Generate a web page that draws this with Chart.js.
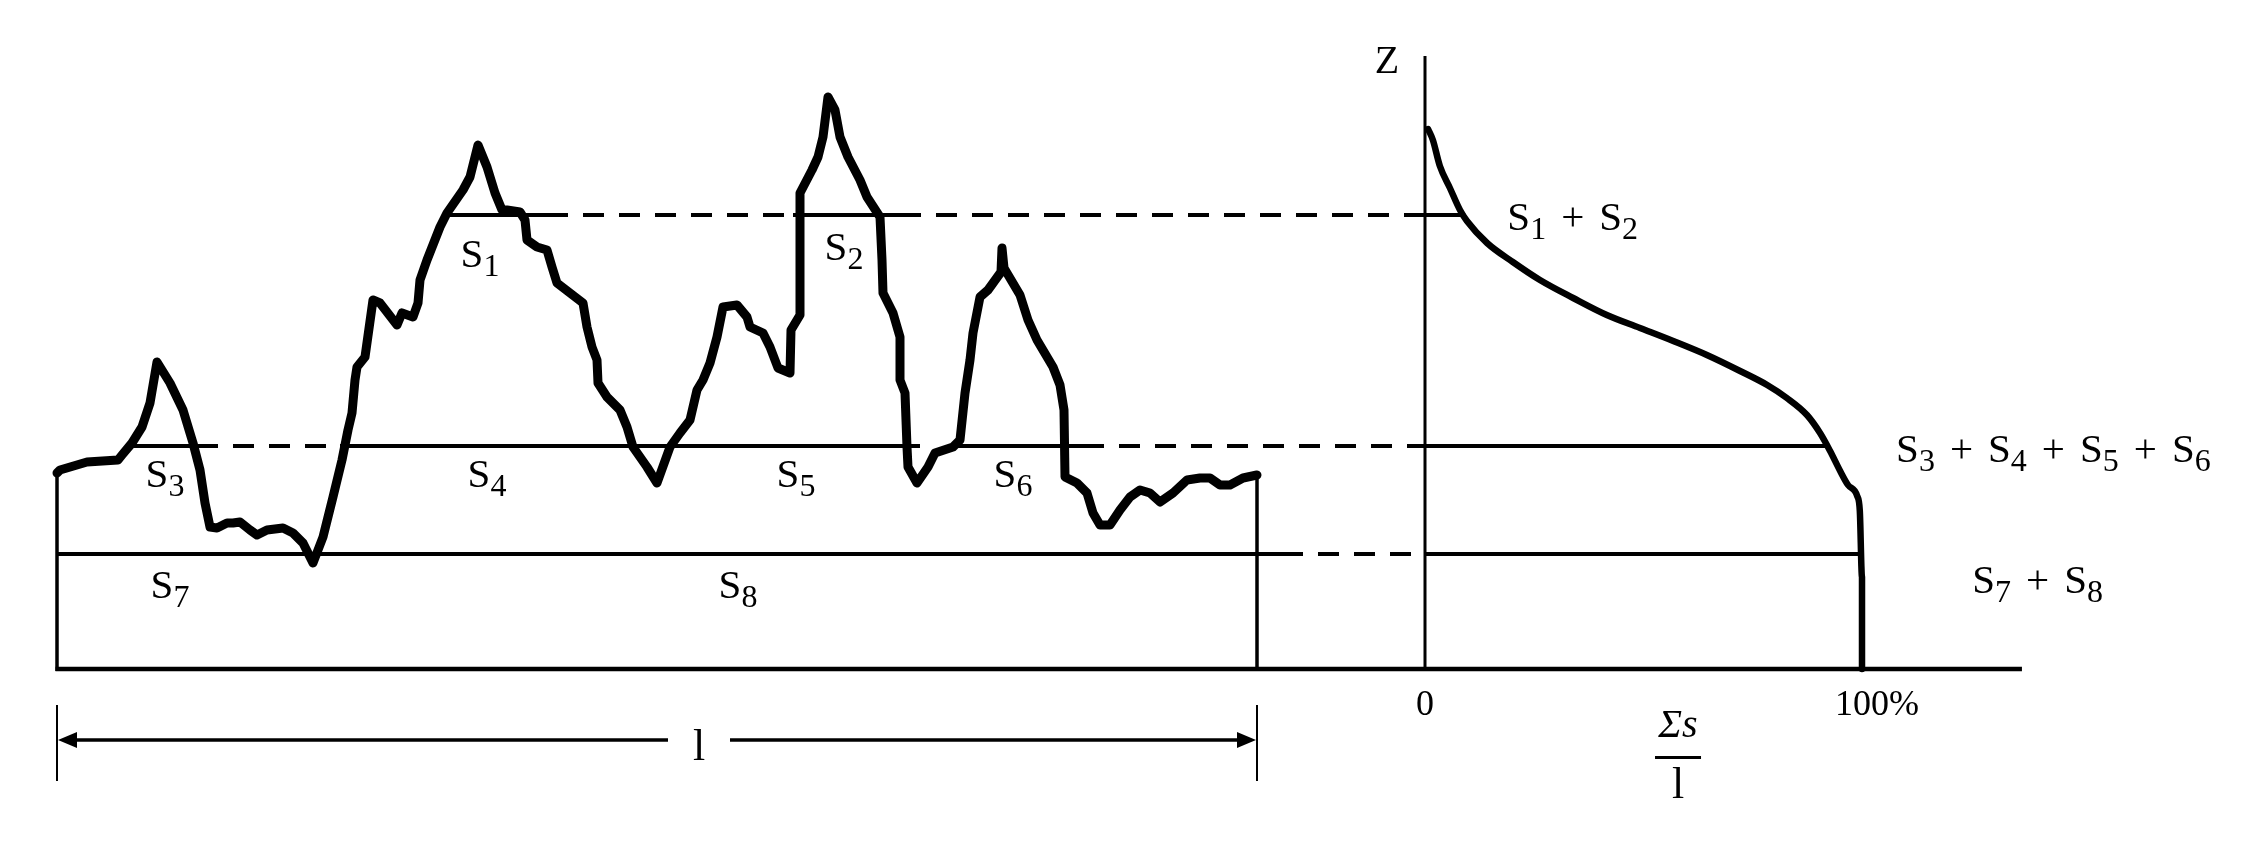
<!DOCTYPE html>
<html>
<head>
<meta charset="utf-8">
<script src="https://cdn.jsdelivr.net/npm/chart.js@4.4.1/dist/chart.umd.min.js"></script>
<style>
html,body{margin:0;padding:0;background:#fff;overflow:hidden}
canvas{display:block}
</style>
</head>
<body>
<canvas id="c" width="2252" height="841"></canvas>
<script>
// ---------------- DATA ----------------
// Surface profile: position along the sampling length l (0..1200) and height z
const profileX = [0,3,30,61,65,75,85,93,100,113,126,136,143,148,153,160,170,176,183,193,200,210,226,236,246,256,266,276,285,291,295,298,300,308,316,323,340,345,356,361,363,370,383,390,406,413,421,430,438,445,450,463,468,470,480,490,495,500,513,526,530,535,540,541,550,563,570,576,590,600,613,623,633,640,646,653,660,666,680,690,693,706,713,721,733,734,743,743,755,761,766,771,778,783,791,803,810,823,825,826,836,843,843,848,850,851,860,871,878,896,903,908,913,916,923,931,944,945,947,963,971,980,996,1003,1007,1008,1020,1030,1036,1043,1053,1063,1073,1083,1093,1103,1116,1130,1143,1153,1163,1173,1186,1200];
const profileZ = [19.6,19.9,20.7,20.9,21.4,22.6,24.2,26.6,30.7,28.6,25.9,22.6,19.9,16.6,14.2,14.1,14.6,14.6,14.7,13.9,13.4,13.9,14.1,13.6,12.6,10.6,13.2,17.2,20.9,23.9,25.6,28.9,30.2,31.2,36.9,36.6,34.4,35.6,35.2,36.6,38.9,40.9,44.2,45.6,47.9,49.2,52.4,50.2,47.6,45.9,45.9,45.7,44.9,42.9,42.2,41.9,40.2,38.6,37.6,36.6,34.2,32.2,30.9,28.6,27.2,25.9,24.2,22.2,20.2,18.6,22.2,23.6,24.9,27.9,28.9,30.6,33.2,36.2,36.4,35.2,34.2,33.6,32.2,30.1,29.6,33.9,35.4,47.6,49.9,51.2,53.2,57.2,55.9,53.2,51.2,48.9,47.2,45.2,40.9,37.6,35.6,33.2,28.9,27.6,22.2,20.2,18.6,20.2,21.6,22.2,22.9,27.6,30.9,33.6,37.2,37.9,39.7,42.1,40.1,37.4,34.9,32.9,30.2,28.4,25.9,19.2,18.6,17.6,15.6,14.4,14.4,15.9,17.2,17.9,17.6,16.7,17.6,18.9,19.1,19.1,18.4,18.4,19.1,19.4];

// Bearing (material ratio) curve: ratio in % and height z
const bearingPct = [0.7,1.8,3.4,5.7,8.0,9.6,14.2,20.1,26.3,33.9,41.6,49.2,56.8,64.5,72.1,78.3,82.8,87.4,90.4,92.7,95.0,96.8,98.9,99.5,100,100];
const bearingZ   = [54.0,52.9,50.3,48.1,45.9,44.8,42.6,40.7,38.9,37.1,35.4,34.1,32.8,31.4,29.8,28.4,27.1,25.4,23.6,21.8,19.8,18.4,17.3,15.8,9.2,0];

// Section levels (heights) and the spans of each level line
const levelZ = [45.4, 22.3, 11.5];
const levelSolid  = [[[390,490],[736,843]], [[75,140],[283,863],[896,1026]], [[0,1225]]];
const levelDashed = [[[490,736]], [[140,283]], []];
const levelDashToAxisFrom = [843, 1026, 1225];   // dashed from here to the Z axis
const levelBearingEnd = [9.2, 91.8, 99.8];       // solid from Z axis to the curve (%)

// Region labels S1..S8
const regionNum = [1,2,3,4,5,6,7,8];
const regionX   = [423,787,108,430,739,956,113,681];
const regionZ   = [40.2,40.9,18.2,18.2,18.2,18.2,7.1,7.1];

// Sum labels at the right
const sumGroups = [[1,2],[3,4,5,6],[7,8]];
const sumX = [33.8, 143.8, 140.2];
const sumZ = [43.9, 20.7, 7.6];

// Axis texts
const ratioTicks = [0, 100];
const ratioTickLabels = ['0', '100%'];
const zAxisLabel = 'Z';
const zAxisTop = 61.3;
const ratioAxisEnd = 136.6;
const sampleLength = 1200;
const lengthLabel = 'l';
const lengthLabelX = 642;
const fractionTop = 'Σs';
const fractionBottom = 'l';
const fractionX = 57.9;

// ---------------- LAYOUT (pixel anchors for the scales) ----------------
const W = 2252, H = 841;
const PROFILE_LEFT = 57, PROFILE_PX_PER_UNIT = 1.0;
const RATIO_LEFT = 1425, RATIO_PX_PER_PCT = 4.37;
const BASE_Y = 669, Z_PX_PER_UNIT = 10;
const SERIF = '"Liberation Serif", "Times New Roman", Times, serif';

function pts(xs, ys){ return xs.map((x,i)=>({x:x, y:ys[i]})); }

const diagram = {
  id: 'diagram',
  beforeDatasetsDraw(chart){
    const c = chart.ctx, sx = chart.scales.x, sr = chart.scales.x2, sy = chart.scales.y;
    const X = v=>sx.getPixelForValue(v), R = v=>sr.getPixelForValue(v), Y = v=>sy.getPixelForValue(v);
    function seg(x1,y1,x2,y2,w,dash){
      c.save(); c.beginPath(); c.lineWidth=w; c.strokeStyle='#000'; c.lineCap='butt';
      c.setLineDash(dash||[]); c.moveTo(x1,y1); c.lineTo(x2,y2); c.stroke(); c.restore();
    }
    // base line (profile + ratio axis)
    seg(X(0)-1.5, Y(0), R(ratioAxisEnd), Y(0), 4.5);
    // Z axis
    seg(R(0), Y(0)+2, R(0), Y(zAxisTop), 3);
    // box verticals
    seg(X(0), Y(0)+2, X(0), Y(profileZ[0]), 3.5);
    seg(X(sampleLength), Y(0)+2, X(sampleLength), Y(profileZ[profileZ.length-1]), 3.5);
    // levels
    levelZ.forEach((z,i)=>{
      const y = Y(z);
      levelSolid[i].forEach(s=>seg(X(s[0]), y, X(s[1]), y, 4));
      levelDashed[i].forEach(s=>seg(X(s[0]), y, X(s[1]), y, 4, [21,15]));
      seg(X(levelDashToAxisFrom[i]), y, R(0), y, 4, [21,15]);
      seg(R(0), y, R(levelBearingEnd[i]), y, 4);
    });
    // dimension line for l
    const dy = BASE_Y + 71, t1 = BASE_Y + 36, t2 = BASE_Y + 112;
    seg(X(0), t1, X(0), t2, 2);
    seg(X(sampleLength), t1, X(sampleLength), t2, 2);
    const gap = 31;
    seg(X(0)+14, dy, X(lengthLabelX)-gap, dy, 3.5);
    seg(X(lengthLabelX)+gap, dy, X(sampleLength)-14, dy, 3.5);
    c.save(); c.fillStyle='#000';
    c.beginPath(); c.moveTo(X(0)+1, dy); c.lineTo(X(0)+20, dy-8); c.lineTo(X(0)+20, dy+8); c.closePath(); c.fill();
    c.beginPath(); c.moveTo(X(sampleLength)-1, dy); c.lineTo(X(sampleLength)-20, dy-8); c.lineTo(X(sampleLength)-20, dy+8); c.closePath(); c.fill();
    c.restore();
  },
  afterDatasetsDraw(chart){
    const c = chart.ctx, sx = chart.scales.x, sr = chart.scales.x2, sy = chart.scales.y;
    const X = v=>sx.getPixelForValue(v), R = v=>sr.getPixelForValue(v), Y = v=>sy.getPixelForValue(v);
    const MAIN = '41px ' + SERIF, SUB = '32px ' + SERIF, SUBDY = 9, PLUSGAP = 15;
    c.save(); c.fillStyle = '#000'; c.textBaseline = 'alphabetic'; c.textAlign = 'left';
    function termW(n){ c.font=MAIN; const a=c.measureText('S').width; c.font=SUB; return a + c.measureText(String(n)).width; }
    function drawTerm(n, x, y){ c.font=MAIN; c.fillText('S', x, y); const a=c.measureText('S').width; c.font=SUB; c.fillText(String(n), x+a, y+SUBDY); }
    function plusW(){ c.font=MAIN; return c.measureText('+').width + 2*PLUSGAP; }
    function drawGroup(nums, cx, y){
      const total = nums.reduce((s,n)=>s+termW(n),0) + (nums.length-1)*plusW();
      let x = cx - total/2;
      nums.forEach((n,k)=>{
        if(k>0){ c.font=MAIN; c.fillText('+', x+PLUSGAP, y); x += plusW(); }
        drawTerm(n, x, y); x += termW(n);
      });
    }
    regionNum.forEach((n,i)=>drawGroup([n], X(regionX[i]), Y(regionZ[i])));
    sumGroups.forEach((g,i)=>drawGroup(g, R(sumX[i]), Y(sumZ[i])));
    // Z label
    c.font = '40px ' + SERIF; c.textAlign='center';
    c.fillText(zAxisLabel, R(-8.7), Y(59.6));
    // ratio tick labels: numeric part centred on the tick
    c.font = '36px ' + SERIF; c.textAlign='left';
    ratioTicks.forEach((t,i)=>{
      const lab = ratioTickLabels[i];
      const num = lab.replace('%','');
      const w = c.measureText(num).width;
      c.fillText(lab, R(t) - w/2, BASE_Y + 46);
    });
    // fraction Σs / l
    c.textAlign='center';
    c.font = 'italic 40px ' + SERIF;
    c.fillText(fractionTop, R(fractionX), BASE_Y + 68);
    c.fillRect(R(fractionX)-23, BASE_Y + 87, 46, 3);
    c.font = '44px ' + SERIF;
    c.fillText(fractionBottom, R(fractionX), BASE_Y + 129);
    // length label
    c.fillText(lengthLabel, X(lengthLabelX), BASE_Y + 91);
    c.restore();
  }
};

function build(){
  new Chart(document.getElementById('c'), {
    type: 'scatter',
    data: {
      datasets: [
        { label:'profile', data: pts(profileX, profileZ), xAxisID:'x', yAxisID:'y', showLine:true,
          borderColor:'#000', borderWidth:9, pointRadius:0, tension:0, borderJoinStyle:'round', borderCapStyle:'round', fill:false },
        { label:'bearing', data: pts(bearingPct, bearingZ), xAxisID:'x2', yAxisID:'y', showLine:true,
          borderColor:'#000', borderWidth:6.5, pointRadius:0, tension:0.3, cubicInterpolationMode:'monotone', borderJoinStyle:'round', borderCapStyle:'round', fill:false }
      ]
    },
    options: {
      responsive:false, animation:false, devicePixelRatio:1,
      layout:{ padding:0 },
      plugins:{ legend:{display:false}, tooltip:{enabled:false} },
      events: [],
      scales:{
        x:{ type:'linear', display:false, min:-PROFILE_LEFT/PROFILE_PX_PER_UNIT, max:(W-PROFILE_LEFT)/PROFILE_PX_PER_UNIT },
        x2:{ type:'linear', display:false, min:-RATIO_LEFT/RATIO_PX_PER_PCT, max:(W-RATIO_LEFT)/RATIO_PX_PER_PCT },
        y:{ type:'linear', display:false, min:-(H-BASE_Y)/Z_PX_PER_UNIT, max:BASE_Y/Z_PX_PER_UNIT }
      }
    },
    plugins:[diagram]
  });
}
const fontLoads = ['41px "Liberation Serif"','italic 40px "Liberation Serif"'].map(f=>document.fonts ? document.fonts.load(f, 'S1+Σs0%') : Promise.resolve());
Promise.all(fontLoads).catch(()=>{}).then(build);
</script>
</body>
</html>
